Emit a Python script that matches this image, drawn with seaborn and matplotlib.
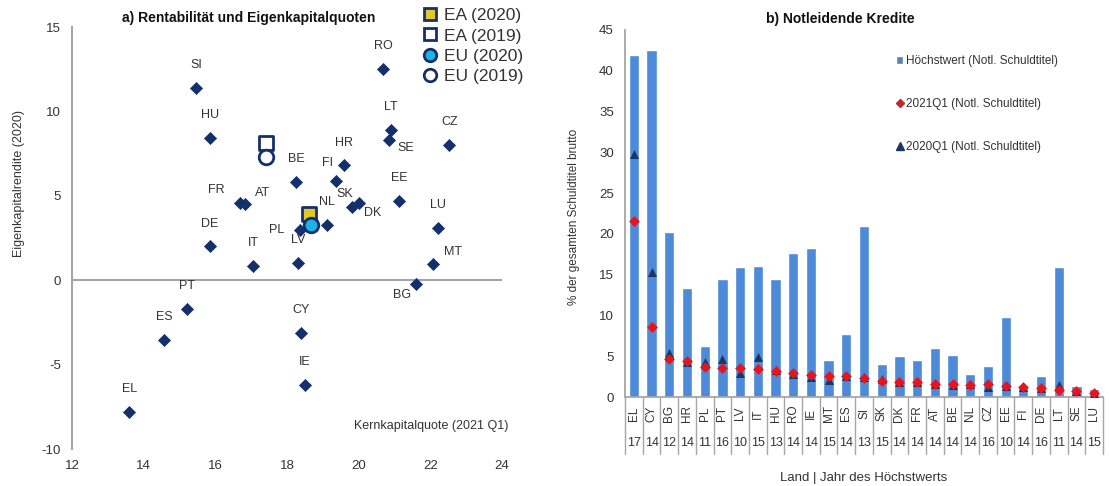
import numpy as np
import pandas as pd
import seaborn as sns
import matplotlib.pyplot as plt
from matplotlib.lines import Line2D
from matplotlib.patches import Patch

# Panel a) Kernkapitalquote (2021 Q1) vs Eigenkapitalrendite (2020)
a_countries = ["SI", "HU", "RO", "LT", "SE", "CZ", "HR", "FI", "BE", "EE", "FR", "AT",
               "SK", "DK", "NL", "LU", "PL", "LV", "DE", "IT", "MT", "BG", "PT", "ES",
               "CY", "IE", "EL"]
a_cet1 = [15.46, 15.85, 20.69, 20.91, 20.85, 22.53, 19.6, 19.37, 18.26, 21.13, 16.7, 16.82,
          19.8, 20.0, 19.12, 22.22, 18.37, 18.3, 15.85, 17.06, 22.08, 21.6, 15.2, 14.57,
          18.4, 18.5, 13.6]
a_roe = [11.4, 8.45, 12.5, 8.9, 8.3, 8.0, 6.8, 5.9, 5.8, 4.7, 4.6, 4.5,
         4.35, 4.55, 3.25, 3.1, 3.0, 1.0, 2.0, 0.83, 0.95, -0.2, -1.7, -3.55,
         -3.1, -6.2, -7.8]
agg_labels = ["EA (2020)", "EA (2019)", "EU (2020)", "EU (2019)"]
agg_cet1 = [18.62, 17.4, 18.68, 17.42]
agg_roe = [3.9, 8.1, 3.3, 7.3]

# Panel b) Notleidende Kredite
b_countries = ["EL", "CY", "BG", "HR", "PL", "PT", "LV", "IT", "HU", "RO", "IE", "MT", "ES",
               "SI", "SK", "DK", "FR", "AT", "BE", "NL", "CZ", "EE", "FI", "DE", "LT", "SE", "LU"]
b_years = ["17", "14", "12", "14", "11", "16", "10", "15", "13", "14", "14", "15", "14",
           "13", "15", "14", "14", "14", "14", "14", "16", "10", "14", "16", "11", "14", "15"]
b_peak = [41.9, 42.6, 20.2, 13.4, 6.3, 14.5, 16.0, 16.1, 14.5, 17.7, 18.3, 4.5, 7.7,
          21.0, 4.0, 5.0, 4.5, 6.0, 5.1, 2.8, 3.8, 9.8, 1.2, 2.6, 16.0, 1.3, 1.0]
b_2021q1 = [21.6, 8.6, 4.7, 4.45, 3.7, 3.6, 3.5, 3.4, 3.25, 2.9, 2.75, 2.6, 2.55,
            2.3, 2.0, 1.85, 1.8, 1.6, 1.55, 1.5, 1.55, 1.35, 1.2, 1.05, 0.85, 0.7, 0.55]
b_2020q1 = [29.8, 15.3, 5.4, 4.35, 4.25, 4.6, 3.0, 4.95, 3.3, 2.85, 2.4, 2.1, 2.55,
            2.4, 2.25, 1.9, 1.9, 1.65, 1.5, 1.55, 1.25, 1.4, 1.25, 1.15, 1.5, 0.7, 0.5]

navy = "#14306b"
grey = "#a6a6a6"
txt = "#333333"

sns.set_theme(style="white")
plt.rcParams["font.family"] = ["Liberation Sans", "DejaVu Sans"]
plt.rcParams["axes.unicode_minus"] = False

fig = plt.figure(figsize=(11.09, 4.86), dpi=100)
ax1 = fig.add_axes([0.0649, 0.0761, 0.3878, 0.8683])
ax2 = fig.add_axes([0.5636, 0.1831, 0.4310, 0.7552])

# ---- panel a ----
df_a = pd.DataFrame({"land": a_countries, "cet1": a_cet1, "roe": a_roe})
ax1.axhline(0, color=grey, lw=1.5, zorder=1)
sns.scatterplot(data=df_a, x="cet1", y="roe", marker="D", color=navy, edgecolor=navy,
                s=38, ax=ax1, legend=False, zorder=3)

# label offsets in points (default: above the marker)
offsets = {"SE": (12, -6), "FI": (-6, 13), "FR": (-17, 9), "AT": (13, 8), "SK": (-5, 9),
           "DK": (10, -7), "PL": (-17, 0), "MT": (14, 9), "BG": (-10, -8)}
for land, x, y in zip(a_countries, a_cet1, a_roe):
    dx, dy = offsets.get(land, (0, 16.5))
    ax1.annotate(land, (x, y), xytext=(dx, dy), textcoords="offset points",
                 ha="center", va="center", fontsize=9, color=txt)

agg_style = [("s", "#e0c82a"), ("s", "white"), ("o", "#1fb2e6"), ("o", "white")]
for (m, fc), x, y in zip(agg_style, agg_cet1, agg_roe):
    sns.scatterplot(x=[x], y=[y], marker=m, color=fc, edgecolor=navy, linewidth=2,
                    s=110, ax=ax1, legend=False, zorder=4)

ax1.set_xlim(12, 24)
ax1.set_ylim(-10, 15)
ax1.set_xticks(np.arange(12, 25, 2))
ax1.set_yticks(np.arange(-10, 16, 5))
ax1.tick_params(length=0, labelsize=9.5, labelcolor=txt, pad=8)
for s in ["top", "right", "bottom"]:
    ax1.spines[s].set_visible(False)
ax1.spines["left"].set_color(grey)
ax1.spines["left"].set_linewidth(1.5)
ax1.set_xlabel("")
ax1.set_ylabel("Eigenkapitalrendite (2020)", fontsize=9, color=txt)
ax1.yaxis.set_label_coords(-0.11, 0.63)
ax1.text(1.014, 0.055, "Kernkapitalquote (2021 Q1)", transform=ax1.transAxes,
         ha="right", va="center", fontsize=9, color=txt)
ax1.text(0.41, 1.021, "a) Rentabilität und Eigenkapitalquoten", transform=ax1.transAxes,
         ha="center", va="center", fontsize=10, fontweight="bold", color="#111111")

h_a = [Line2D([], [], marker=m, ls="", markerfacecolor=fc, markeredgecolor=navy,
              markeredgewidth=2, markersize=9) for m, fc in agg_style]
fig.legend(h_a, agg_labels, loc="upper left", bbox_to_anchor=(0.373, 1.005), frameon=False,
           fontsize=12.5, labelspacing=0.3, handlelength=0.7, handletextpad=0.45,
           borderaxespad=0.2, labelcolor=txt)

# ---- panel b ----
df_b = pd.DataFrame({"land": b_countries, "peak": b_peak, "q21": b_2021q1, "q20": b_2020q1})
sns.barplot(data=df_b, x="land", y="peak", color="#4d8ad8", saturation=1, width=0.58,
            ax=ax2, zorder=2)
sns.stripplot(data=df_b, x="land", y="q20", marker="^", color="#1a3566", size=6.5,
              jitter=False, ax=ax2, zorder=3)
sns.stripplot(data=df_b, x="land", y="q21", marker="D", color="#e8141c", size=5.5,
              jitter=False, ax=ax2, zorder=4)

ax2.set_xlim(-0.5, len(b_countries) - 0.5)
ax2.set_ylim(0, 45)
ax2.set_yticks(np.arange(0, 46, 5))
ax2.set_xticks([])
ax2.tick_params(length=0, labelsize=9.5, labelcolor=txt, pad=8)
for s in ["top", "right"]:
    ax2.spines[s].set_visible(False)
for s in ["left", "bottom"]:
    ax2.spines[s].set_color(grey)
    ax2.spines[s].set_linewidth(1.3)
ax2.set_xlabel("Land | Jahr des Höchstwerts", fontsize=9.5, color=txt, labelpad=54)
ax2.set_ylabel("% der gesamten Schuldtitel brutto", fontsize=8.5, color=txt)
ax2.yaxis.set_label_coords(-0.095, 0.49)
ax2.text(0.45, 1.03, "b) Notleidende Kredite", transform=ax2.transAxes, ha="center",
         va="center", fontsize=10, fontweight="bold", color="#111111")

# category table under the axis
trans = ax2.get_xaxis_transform()
for i, (land, yr) in enumerate(zip(b_countries, b_years)):
    ax2.text(i, -0.045, land, transform=trans, rotation=90, ha="center", va="center",
             fontsize=8.5, color=txt)
    ax2.text(i, -0.125, yr, transform=trans, ha="center", va="center", fontsize=9,
             color=txt)
for i in range(len(b_countries) + 1):
    ax2.plot([i - 0.5, i - 0.5], [0, -0.155], transform=trans, color=grey, lw=1,
             clip_on=False)

h_b = [Patch(facecolor="#5b7fb5"),
       Line2D([], [], marker="D", ls="", color="#c0282d", markersize=4),
       Line2D([], [], marker="^", ls="", color="#1a3566", markersize=6)]
ax2.legend(h_b, ["Höchstwert (Notl. Schuldtitel)", "2021Q1 (Notl. Schuldtitel)",
                 "2020Q1 (Notl. Schuldtitel)"],
           loc="upper left", bbox_to_anchor=(0.545, 0.96), frameon=False, fontsize=8.5,
           labelspacing=2.6, handlelength=0.6, handleheight=0.6, handletextpad=0.2,
           labelcolor=txt)

fig.savefig("out.png", dpi=100)
